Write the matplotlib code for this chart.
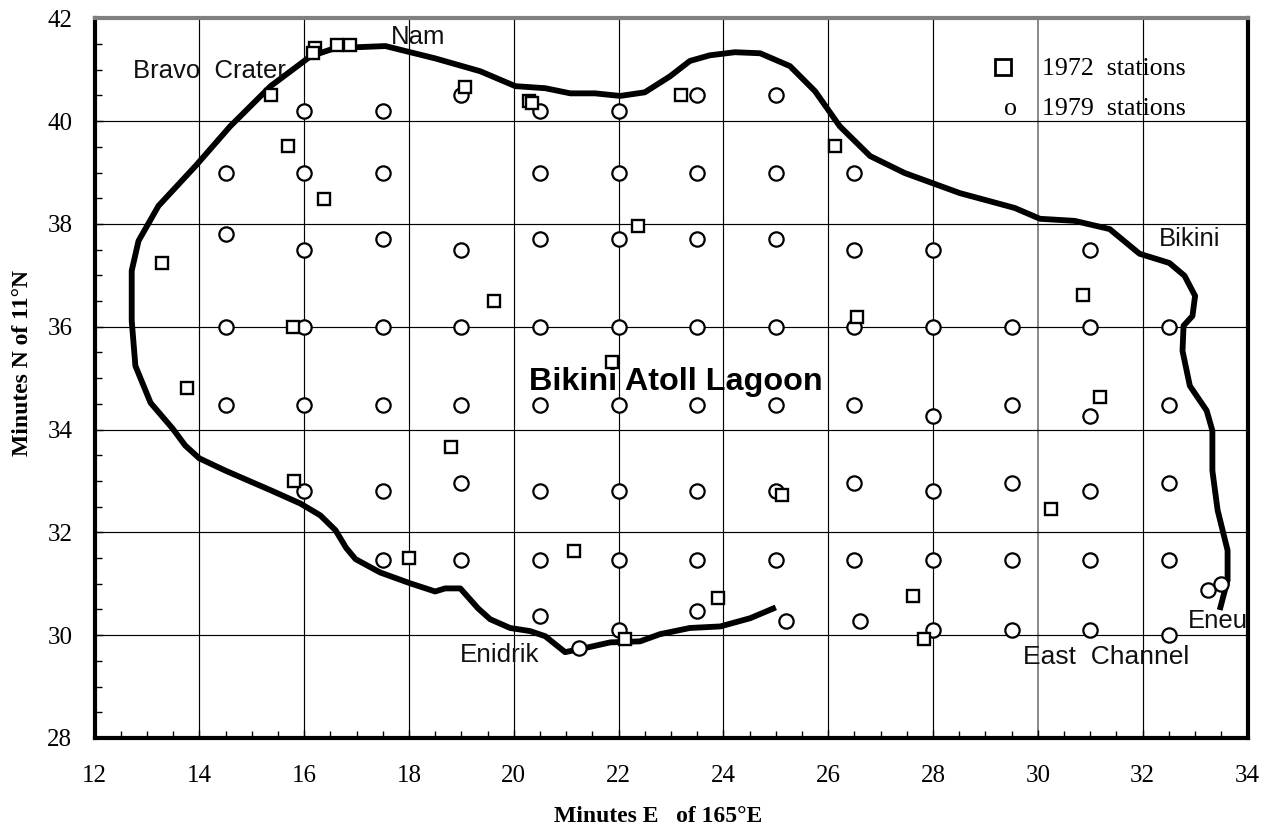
import matplotlib
matplotlib.use("Agg")
import matplotlib.pyplot as plt
from matplotlib.ticker import MultipleLocator

coast_x = [25.0,24.51,23.94,23.36,22.79,22.41,21.84,21.36,20.98,20.6,20.31,19.93,19.55,19.32,18.98,18.69,18.5,18.02,17.45,16.98,16.8,16.6,16.31,15.93,15.36,14.5,14.0,13.73,13.49,13.07,12.78,12.71,12.71,12.84,13.22,13.93,14.59,15.36,16.12,16.59,17.55,18.5,19.36,20.03,20.6,21.08,21.55,22.03,22.5,22.98,23.36,23.74,24.22,24.7,25.27,25.75,26.22,26.8,27.46,28.51,29.56,30.04,30.7,31.37,31.94,32.51,32.8,33.0,32.95,32.78,32.76,32.9,33.22,33.33,33.33,33.43,33.62,33.62,33.47]
coast_y = [30.54,30.33,30.17,30.14,30.02,29.88,29.86,29.75,29.67,29.98,30.08,30.14,30.31,30.52,30.91,30.91,30.85,31.01,31.22,31.48,31.7,32.04,32.33,32.56,32.82,33.2,33.44,33.69,34.02,34.52,35.24,36.12,37.09,37.67,38.35,39.13,39.9,40.68,41.26,41.42,41.46,41.22,40.97,40.68,40.64,40.54,40.54,40.49,40.56,40.87,41.17,41.28,41.34,41.32,41.07,40.58,39.9,39.32,38.99,38.6,38.31,38.1,38.06,37.9,37.42,37.24,36.99,36.6,36.21,36.02,35.53,34.85,34.37,33.98,33.2,32.43,31.65,31.07,30.49]

s79_x = [19,23.5,25, 16,17.5,20.5,22,
         14.5,16,17.5,20.5,22,23.5,25,26.5,
         14.5,16,17.5,19,20.5,22,23.5,25,26.5,28,31,
         14.5,16,17.5,19,20.5,22,23.5,25,26.5,28,29.5,31,32.5,
         14.5,16,17.5,19,20.5,22,23.5,25,26.5,28,29.5,31,32.5,
         16,17.5,19,20.5,22,23.5,25,26.5,28,29.5,31,32.5,
         17.5,19,20.5,22,23.5,25,26.5,28,29.5,31,32.5,
         20.5,21.25,22,23.5,25.2,26.6,28,29.5,31,32.5,33.25,33.5]
s79_y = [40.5,40.5,40.5, 40.2,40.2,40.2,40.2,
         39,39,39,39,39,39,39,39,
         37.8,37.5,37.7,37.5,37.7,37.7,37.7,37.7,37.5,37.5,37.5,
         36,36,36,36,36,36,36,36,36,36,36,36,36,
         34.47,34.47,34.47,34.47,34.47,34.47,34.47,34.47,34.47,34.27,34.47,34.27,34.47,
         32.8,32.8,32.97,32.8,32.8,32.8,32.8,32.97,32.8,32.97,32.8,32.97,
         31.47,31.47,31.47,31.47,31.47,31.47,31.47,31.47,31.47,31.47,31.47,
         30.37,29.75,30.1,30.47,30.27,30.27,30.1,30.1,30.1,30.0,30.88,31.0]

s72_x = [16.2,16.17,16.63,16.88,15.36,19.07,20.3,20.35,23.2,15.7,26.13,16.37,22.37,13.28,19.63,30.86,26.55,15.79,21.88,13.77,31.18,18.81,15.81,25.12,30.25,18.0,21.15,27.61,23.9,22.12,27.83]
s72_y = [41.42,41.33,41.48,41.48,40.5,40.66,40.39,40.35,40.5,39.52,39.52,38.48,37.96,37.24,36.5,36.62,36.19,36.0,35.32,34.8,34.64,33.67,32.99,32.72,32.45,31.5,31.63,30.76,30.72,29.92,29.92]

legend_square_x = [29.33]
legend_square_y = [41.05]

W, H = 1271, 834
fig = plt.figure(figsize=(W/100, H/100), dpi=100, facecolor="white")
ax = fig.add_axes([94.5/W, 1-738/H, (1247.5-94.5)/W, (738-18.3)/H])
ax.set_xlim(12, 34)
ax.set_ylim(28, 42)
ax.xaxis.set_major_locator(MultipleLocator(2))
ax.yaxis.set_major_locator(MultipleLocator(2))
ax.xaxis.set_minor_locator(MultipleLocator(0.5))
ax.yaxis.set_minor_locator(MultipleLocator(0.5))
ax.grid(True, which="major", color="black", lw=0.85, zorder=1)
for gl, t in zip(ax.get_xgridlines(), ax.get_xticks()):
    if abs(t-30) < 1e-6:
        gl.set_color("#808080")
        gl.set_linewidth(1.3)
ax.tick_params(which="major", direction="in", length=6, width=1.0, labelsize=18, bottom=True, left=True)
ax.tick_params(which="minor", direction="in", length=5, width=1.0, bottom=True, left=True)
ax.tick_params(axis="x", which="major", pad=19.5)
ax.tick_params(axis="y", which="major", pad=16)
serif = "Liberation Serif"
sans = "Liberation Sans"
for lab in ax.get_xticklabels()+ax.get_yticklabels():
    lab.set_family(serif)
for side in ("left", "bottom", "right", "top"):
    ax.spines[side].set_linewidth(3.0)
ax.spines["top"].set_color("#808080")

ax.plot(coast_x, coast_y, color="black", lw=4.2, solid_capstyle="butt", solid_joinstyle="round", zorder=3)
ax.plot(s79_x, s79_y, ls="none", marker="o", ms=10.3, mfc="white", mec="black", mew=1.6, zorder=4)
ax.plot(s72_x, s72_y, ls="none", marker="s", ms=9.2, mfc="white", mec="black", mew=1.7, zorder=5)
ax.plot(legend_square_x, legend_square_y, ls="none", marker="s", ms=11, mfc="white", mec="black", mew=2.0, zorder=5)

def T(px, py, s, **kw):
    return fig.text(px/W, 1-py/H, s, va="baseline", **kw)

T(133, 78, "Bravo  Crater", family=sans, fontsize=18.5, color="#111111")
T(391, 44, "Nam", family=sans, fontsize=18.5, color="#111111")
T(1159, 246, "Bikini", family=sans, fontsize=18.5, color="#111111")
eneu = T(1188, 628, "Eneu", family=sans, fontsize=18.5, color="#111111")
eneu.set_clip_path(ax.patch)
eneu.set_clip_on(True)
T(1023, 664, "East  Channel", family=sans, fontsize=19, color="#111111")
T(460, 662, "Enidrik", family=sans, fontsize=18.8, color="#111111")
T(529, 390, "Bikini Atoll Lagoon", family=sans, fontsize=23.3, fontweight="bold", color="black")
T(1042, 75, "1972  stations", family=serif, fontsize=18.6, color="black")
T(1042, 115, "1979  stations", family=serif, fontsize=18.6, color="black")
T(1004, 115, "o", family=serif, fontsize=18.6, color="black")

T(658, 822, "Minutes E   of 165°E", family=serif, fontsize=17, fontweight="bold", ha="center")
fig.text(22/W, 1-363/H, "Minutes N of 11°N", family=serif, fontsize=17, fontweight="bold",
         rotation=90, ha="center", va="center")

fig.savefig("out.png", dpi=100)
